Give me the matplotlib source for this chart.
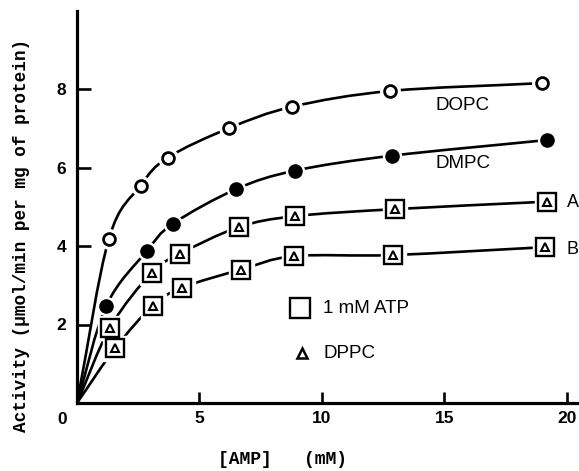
import matplotlib
matplotlib.use("Agg")
import matplotlib.pyplot as plt
from matplotlib.path import Path
from matplotlib.patches import PathPatch
import numpy as np

# Data
dopc_x = [1.3, 2.6, 3.7, 6.2, 8.8, 12.8, 19.0]
dopc_y = [4.18, 5.54, 6.25, 7.0, 7.55, 7.95, 8.15]
dmpc_x = [1.2, 2.85, 3.9, 6.5, 8.9, 12.85, 19.2]
dmpc_y = [2.48, 3.87, 4.56, 5.45, 5.92, 6.3, 6.7]
a_x = [1.35, 3.05, 4.2, 6.6, 8.9, 13.0, 19.2]
a_y = [1.92, 3.32, 3.8, 4.48, 4.76, 4.94, 5.13]
b_x = [1.55, 3.1, 4.3, 6.7, 8.85, 12.9, 19.1]
b_y = [1.39, 2.48, 2.94, 3.4, 3.74, 3.77, 3.97]

xticks = [5, 10, 15, 20]
yticks = [2, 4, 6, 8]

fig = plt.figure(figsize=(5.79, 4.71), dpi=100)
ax = fig.add_axes([77/579, 1-403/471, 1-77/579, 392.5/471])
ax.set_xlim(0, 20.5)
ax.set_ylim(0, 10)

def curve(xs, ys):
    # smooth Bezier path through the origin and the points (Catmull-Rom)
    px = [0.0] + list(xs)
    py = [0.0] + list(ys)
    n = len(px)
    verts = [(px[0], py[0])]
    codes = [Path.MOVETO]
    for i in range(n - 1):
        if i == 0:
            c1 = (px[0] + (px[1] - px[0]) / 3, py[0] + (py[1] - py[0]) / 3)
        else:
            c1 = (px[i] + (px[i+1] - px[i-1]) / 6, py[i] + (py[i+1] - py[i-1]) / 6)
        if i + 2 < n:
            c2 = (px[i+1] - (px[i+2] - px[i]) / 6, py[i+1] - (py[i+2] - py[i]) / 6)
        else:
            c2 = (px[i+1] - (px[i+1] - px[i]) / 3, py[i+1] - (py[i+1] - py[i]) / 3)
        verts += [c1, c2, (px[i+1], py[i+1])]
        codes += [Path.CURVE4] * 3
    ax.add_patch(PathPatch(Path(verts, codes), fill=False, edgecolor='black',
                           lw=1.9, zorder=1, capstyle='butt'))

for xs, ys in [(dopc_x, dopc_y), (dmpc_x, dmpc_y), (a_x, a_y), (b_x, b_y)]:
    curve(xs, ys)

# gaps around markers
ax.plot(dopc_x, dopc_y, 'o', ms=14, mfc='white', mec='white', zorder=2)
ax.plot(dmpc_x, dmpc_y, 'o', ms=13, mfc='white', mec='white', zorder=2)
ax.plot(a_x, a_y, 's', ms=17, mfc='white', mec='white', zorder=2)
ax.plot(b_x, b_y, 's', ms=18, mfc='white', mec='white', zorder=2)

ax.plot(dopc_x, dopc_y, 'o', ms=8.5, mfc='white', mec='black', mew=2.0, zorder=3)
ax.plot(dmpc_x, dmpc_y, 'o', ms=9.5, mfc='black', mec='black', zorder=3)
for xs, ys in [(a_x, a_y), (b_x, b_y)]:
    ax.plot(xs, ys, 's', ms=13.5, mfc='white', mec='black', mew=1.7, zorder=3)
    ax.plot(xs, ys, '^', ms=5.5, mfc='white', mec='black', mew=1.5, zorder=4)

sans = 'Liberation Sans'
fs = 13.5
ax.text(14.63, 7.59, 'DOPC', fontsize=fs, family=sans, va='center', ha='left')
ax.text(14.63, 6.11, 'DMPC', fontsize=fs, family=sans, va='center', ha='left')
ax.text(20.0, 5.1, 'A', fontsize=13, family=sans, va='center', ha='left', clip_on=False)
ax.text(20.0, 3.92, 'B', fontsize=13, family=sans, va='center', ha='left', clip_on=False)

ax.plot([9.11], [2.42], 's', ms=14, mfc='white', mec='black', mew=1.7, clip_on=False)
ax.text(10.05, 2.42, '1 mM ATP', fontsize=fs, family=sans, va='center', ha='left')
ax.plot([9.2], [1.27], '^', ms=6.5, mfc='white', mec='black', mew=1.8, clip_on=False)
ax.text(10.05, 1.27, 'DPPC', fontsize=fs, family=sans, va='center', ha='left')

for s in ['top', 'right']:
    ax.spines[s].set_visible(False)
for s in ['left', 'bottom']:
    ax.spines[s].set_linewidth(2.3)

ax.set_xticks(xticks)
ax.set_yticks(yticks)
ax.set_xticklabels([str(v) for v in xticks], fontsize=12.5, fontweight='bold', family=sans)
ax.set_yticklabels([str(v) for v in yticks], fontsize=12.5, fontweight='bold', family=sans)
ax.tick_params(axis='x', direction='in', length=8, width=1.9, pad=6)
ax.tick_params(axis='y', direction='in', length=10, width=1.9, pad=8)
fig.text(62/579, 1-420/471, '0', fontsize=12.5, fontweight='bold', family=sans, ha='center', va='center')

mono = 'Liberation Mono'
fig.text(22/579, 1-235/471, 'Activity (\u03bcmol/min per mg of protein)', rotation=90,
         fontsize=12.8, family=mono, fontweight='bold', ha='center', va='center')
fig.text(283/579, 1-460/471, '[AMP]   (mM)', fontsize=13, family=mono, fontweight='bold',
         ha='center', va='center')

fig.savefig('out.png', dpi=100)
